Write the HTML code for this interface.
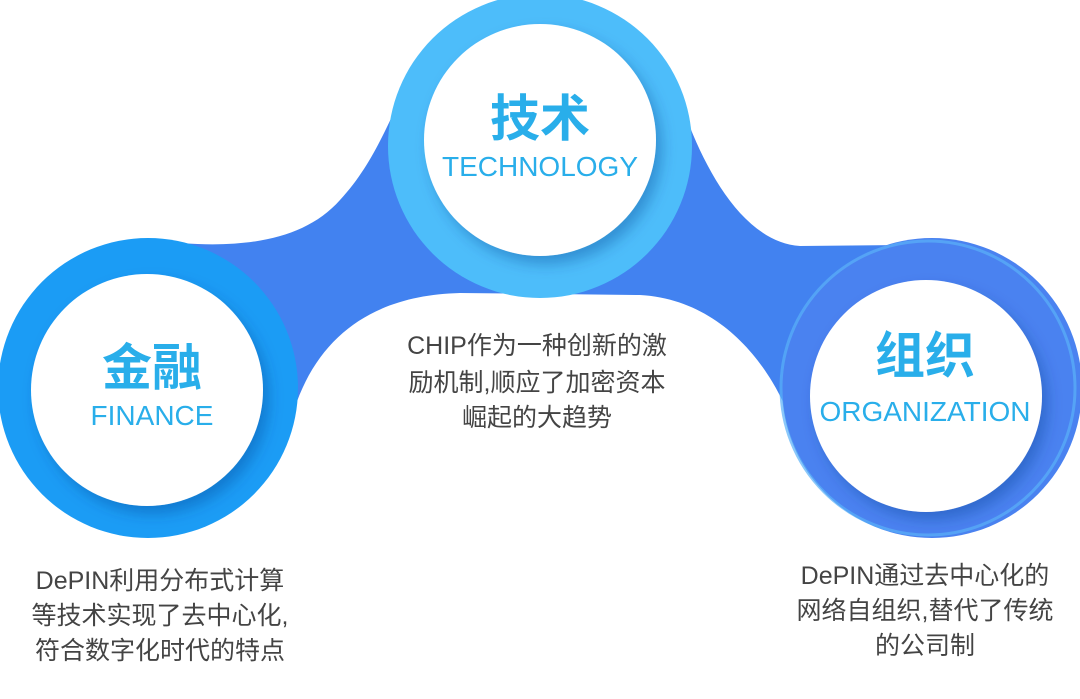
<!DOCTYPE html>
<html><head><meta charset="utf-8"><style>
body{margin:0;background:#fff;width:1080px;height:694px;overflow:hidden}
svg text{font-family:"Liberation Sans","Noto Sans CJK SC",sans-serif}
</style></head><body>
<svg width="1080" height="694" viewBox="0 0 1080 694">
<defs>
<filter id="sh" x="-20%" y="-20%" width="140%" height="140%"><feDropShadow dx="6" dy="8" stdDeviation="7" flood-color="#0a3a8a" flood-opacity="0.35"/></filter>
</defs>
<path d="M150,240 C230,250 300,245 340,200 C370,168 385,130 400,100 L680,100 C700,160 740,242 800,246 L900,245 L930,300 L930,400 L796,436 C780,380 730,300 640,295 L460,293 C380,295 320,330 294,410 L200,400 Z" fill="#4282f0"/>
<circle cx="148" cy="388" r="150" fill="#1b9cf5"/>
<circle cx="540" cy="146" r="152" fill="#4dbdfa"/>
<circle cx="932" cy="388" r="150" fill="#4a82f0"/>
<circle cx="928" cy="388" r="147" fill="none" stroke="#5ab0f8" stroke-width="3" opacity="0.7"/>
<circle cx="147" cy="390" r="116" fill="#fff" filter="url(#sh)"/>
<circle cx="540" cy="140" r="116" fill="#fff" filter="url(#sh)"/>
<circle cx="926" cy="396" r="116" fill="#fff" filter="url(#sh)"/>
<g fill="#29aeea" text-anchor="middle">
<text x="540" y="136" font-size="50" font-weight="bold">技术</text>
<text x="540" y="176" font-size="28">TECHNOLOGY</text>
<text x="152" y="385" font-size="50" font-weight="bold">金融</text>
<text x="152" y="425" font-size="28">FINANCE</text>
<text x="925" y="373" font-size="50" font-weight="bold">组织</text>
<text x="925" y="421" font-size="28">ORGANIZATION</text>
</g>
<g fill="#444" text-anchor="middle" font-size="25">
<text x="537" y="354">CHIP作为一种创新的激</text>
<text x="537" y="391">励机制,顺应了加密资本</text>
<text x="537" y="426">崛起的大趋势</text>
<text x="160" y="589">DePIN利用分布式计算</text>
<text x="160" y="624">等技术实现了去中心化,</text>
<text x="160" y="659">符合数字化时代的特点</text>
<text x="925" y="584">DePIN通过去中心化的</text>
<text x="925" y="619">网络自组织,替代了传统</text>
<text x="925" y="654">的公司制</text>
</g>
</svg>
</body></html>
